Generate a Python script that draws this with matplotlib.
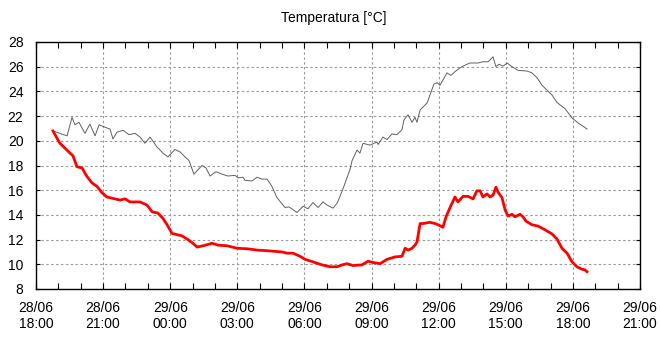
import matplotlib
matplotlib.use("Agg")
import matplotlib.pyplot as plt
from matplotlib.ticker import MultipleLocator

# hours since 28/06 18:00
gray_h = [0.76, 1.07, 1.39, 1.61, 1.74, 1.92, 2.19, 2.41, 2.64, 2.82, 3.08, 3.31, 3.44, 3.62,
          3.89, 4.16, 4.43, 4.65, 4.87, 5.10, 5.41, 5.68, 5.90, 6.21, 6.44, 6.66, 6.84, 7.06,
          7.42, 7.60, 7.78, 8.05, 8.31, 8.58, 8.90, 9.03, 9.25, 9.34, 9.66, 9.88, 10.10, 10.33,
          10.55, 10.77, 11.13, 11.31, 11.67, 11.94, 12.16, 12.38, 12.61, 12.83, 13.01, 13.28,
          13.46, 13.59, 13.72, 13.90, 14.04, 14.13, 14.35, 14.48, 14.62, 14.93, 15.24, 15.29,
          15.51, 15.69, 15.91, 16.14, 16.36, 16.45, 16.63, 16.81, 16.94, 17.03, 17.17, 17.48,
          17.79, 17.93, 18.06, 18.37, 18.55, 18.73, 18.95, 19.09, 19.40, 19.76, 19.98, 20.21,
          20.43, 20.56, 20.70, 20.88, 21.06, 21.28, 21.55, 21.95, 22.17, 22.40, 22.62, 22.84,
          23.07, 23.29, 23.65, 23.96, 24.23, 24.63]
gray_v = [20.8, 20.6, 20.4, 21.9, 21.3, 21.5, 20.6, 21.35, 20.4, 21.3, 21.1, 20.95, 20.15, 20.7,
          20.85, 20.5, 20.6, 20.3, 19.8, 20.3, 19.5, 19.0, 18.7, 19.3, 19.1, 18.7, 18.4, 17.3,
          18.0, 17.8, 17.15, 17.5, 17.3, 17.15, 17.2, 17.0, 17.05, 16.8, 16.75, 17.05, 16.9, 16.9,
          16.3, 15.4, 14.6, 14.65, 14.2, 14.7, 14.5, 15.0, 14.6, 15.05, 14.8, 14.55,
          14.95, 15.5, 16.1, 17.0, 17.7, 18.4, 19.25, 19.0, 19.8, 19.65, 19.9, 19.7,
          20.3, 20.1, 20.55, 20.5, 20.9, 21.7, 22.1, 21.5, 21.9, 21.5, 22.5, 23.05,
          24.6, 24.7, 24.5, 25.5, 25.3, 25.6, 25.9, 26.05, 26.3, 26.3, 26.4, 26.4,
          26.8, 26.0, 26.2, 26.05, 26.3, 26.0, 25.7, 25.65, 25.5, 25.1, 24.5, 24.1,
          23.7, 23.1, 22.6, 21.85, 21.45, 20.96]

red_h = [0.76, 0.94, 1.07, 1.30, 1.52, 1.65, 1.83, 2.06, 2.28, 2.50, 2.73, 2.95, 3.17, 3.40,
         3.76, 3.98, 4.20, 4.65, 4.96, 5.19, 5.45, 5.68, 5.86, 6.08, 6.30, 6.53, 6.79, 7.02,
         7.20, 7.47, 7.87, 8.14, 8.54, 8.99, 9.48, 9.88, 10.33, 11.00, 11.22, 11.49, 11.80,
         12.03, 12.38, 12.79, 13.14, 13.46, 13.68, 13.90, 14.17, 14.57, 14.84, 15.06, 15.38,
         15.69, 16.05, 16.36, 16.50, 16.63, 16.81, 16.94, 17.03, 17.17, 17.30, 17.61, 17.84,
         17.97, 18.19, 18.33, 18.51, 18.73, 18.86, 19.09, 19.31, 19.54, 19.71, 19.85, 19.98,
         20.16, 20.30, 20.43, 20.56, 20.65, 20.83, 20.97, 21.10, 21.28, 21.41, 21.64, 21.77,
         21.90, 22.17, 22.44, 22.75, 23.07, 23.29, 23.51, 23.74, 23.96, 24.18, 24.41, 24.54,
         24.63]
red_v = [20.8, 20.2, 19.8, 19.4, 19.0, 18.8, 17.9, 17.8, 17.1, 16.6, 16.3, 15.8, 15.45, 15.35,
         15.2, 15.3, 15.05, 15.05, 14.8, 14.25, 14.15, 13.7, 13.2, 12.5, 12.4, 12.3, 12.0, 11.7,
         11.4, 11.5, 11.7, 11.55, 11.5, 11.3, 11.25, 11.15, 11.1, 11.0, 10.9, 10.9, 10.65,
         10.4, 10.2, 9.95, 9.8, 9.8, 9.95, 10.05, 9.9, 9.95, 10.25, 10.15, 10.05,
         10.4, 10.6, 10.65, 11.3, 11.15, 11.3, 11.55, 11.8, 13.3, 13.3, 13.4, 13.3,
         13.2, 13.0, 13.85, 14.6, 15.45, 15.05, 15.5, 15.5, 15.3, 15.95, 15.95, 15.45,
         15.7, 15.45, 15.6, 16.25, 15.85, 15.4, 14.4, 13.9, 14.05, 13.85, 14.05, 13.85,
         13.5, 13.2, 13.1, 12.8, 12.45, 12.05, 11.3, 10.9, 10.2, 9.8, 9.6, 9.55,
         9.4]

x_ticks = [0, 3, 6, 9, 12, 15, 18, 21, 24, 27]
x_labels = ["28/06\n18:00", "28/06\n21:00", "29/06\n00:00", "29/06\n03:00", "29/06\n06:00",
            "29/06\n09:00", "29/06\n12:00", "29/06\n15:00", "29/06\n18:00", "29/06\n21:00"]
y_ticks = [8, 10, 12, 14, 16, 18, 20, 22, 24, 26, 28]

plt.rcParams['font.family'] = ['Liberation Sans', 'DejaVu Sans']

fig = plt.figure(figsize=(6.6, 3.38), dpi=100)
ax = fig.add_axes([36/660, 49/338, 604/660, 247/338])

ax.plot(gray_h, gray_v, color='#606060', lw=0.7, zorder=3)
ax.plot(red_h, red_v, color='#ff0000', lw=2.0, zorder=4)

ax.set_xlim(0, 27)
ax.set_ylim(8, 28)
ax.set_xticks(x_ticks)
ax.set_xticklabels(x_labels, fontsize=10, linespacing=1.15)
ax.set_yticks(y_ticks)
ax.set_yticklabels([str(v) for v in y_ticks], fontsize=10)
ax.xaxis.set_minor_locator(MultipleLocator(1))

ax.tick_params(axis='x', which='both', direction='in', top=True, bottom=True, length=4,
               width=0.8, pad=9)
ax.tick_params(axis='y', which='major', direction='in', left=True, right=True, length=3,
               width=0.8, pad=9)

ax.grid(True, which='major', color='#999999', linestyle=(0, (2.2, 2.2)), linewidth=0.8)
for s in ax.spines.values():
    s.set_color('black')
    s.set_linewidth(1.0)

fig.text(334/660, 1 - 18/338, "Temperatura [°C]", ha='center', va='center', fontsize=10)

fig.savefig("out.png", dpi=100)
